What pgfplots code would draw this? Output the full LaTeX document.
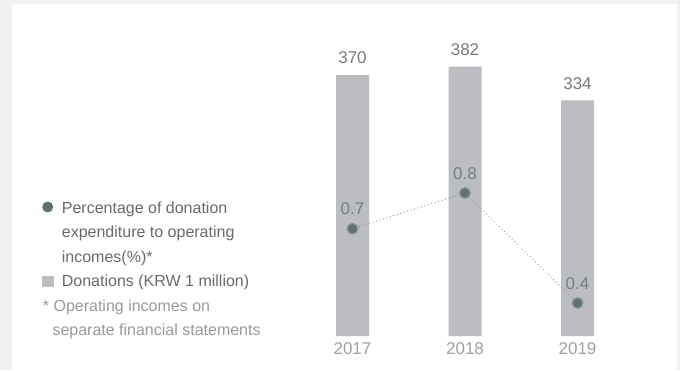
\documentclass[border=0pt]{standalone}
\usepackage{pgfplots}
\pgfplotsset{compat=1.18}
\usepackage{fontspec}
\setmainfont{Liberation Sans}
\definecolor{bgc}{HTML}{F0F1F3}
\definecolor{barc}{HTML}{BCBDC1}
\definecolor{dotc}{HTML}{5E7273}
\definecolor{linec}{HTML}{8C9294}
\definecolor{valc}{HTML}{7A7A7A}
\definecolor{lvalc}{HTML}{6E8283}
\definecolor{yearc}{HTML}{A0A0A0}
\definecolor{legc}{HTML}{6A6A6A}
\definecolor{footc}{HTML}{9A9A9A}
\begin{document}
\begin{tikzpicture}[x=1pt,y=1pt]
\fill[bgc] (0,0) rectangle (680,370);
\fill[white] (12,0) rectangle (677,366);
\begin{axis}[
  at={(296.25pt,34pt)}, anchor=south west, scale only axis,
  width=337.5pt, height=316pt,
  xmin=-0.5, xmax=2.5, ymin=0, ymax=448,
  axis line style={draw=none}, major tick length=0pt,
  ytick=\empty, xtick={0,1,2}, xticklabels={2017,2018,2019},
  xticklabel style={font=\fontsize{17}{20}\selectfont, text=yearc, inner sep=0pt, anchor=north, yshift=-6pt},
  /pgf/number format/assume math mode=true,
  clip=false,
]
\addplot[ybar, fill=barc, draw=none, bar width=33pt, bar shift=0pt,
  nodes near coords,
  every node near coord/.append style={font=\fontsize{17}{20}\selectfont, text=valc, inner sep=0pt, anchor=south, yshift=11pt}]
  coordinates {(0,370) (1,382) (2,334)};
\end{axis}
\begin{axis}[
  at={(296.25pt,34pt)}, anchor=south west, scale only axis,
  width=337.5pt, height=316pt,
  xmin=-0.5, xmax=2.5, ymin=0.28, ymax=1.429,
  hide axis, clip=false,
]
\addplot[linec, line width=1.3pt, line cap=round, dash pattern=on 0.01pt off 3.6pt,
  mark=*, mark size=5.3pt, mark options={solid, fill=dotc, draw=none},
  point meta=explicit symbolic, nodes near coords,
  every node near coord/.append style={font=\fontsize{17}{20}\selectfont, text=lvalc, inner sep=0pt, anchor=south, yshift=13pt}]
  coordinates {(0,0.67)[0.7] (1,0.8)[0.8] (2,0.4)[0.4]};
\end{axis}
\fill[dotc] (47.7,163) circle (5.5);
\fill[barc] (42,83) rectangle (53.7,94);
\begin{scope}[every node/.style={anchor=base west, inner sep=0pt, font=\fontsize{16}{19}\selectfont}]
\node[text=legc] at (61.7,156.7) {Percentage of donation};
\node[text=legc] at (61.7,132.2) {expenditure to operating};
\node[text=legc] at (61.7,107.7) {incomes(\%)*};
\node[text=legc] at (61.7,83.2) {Donations (KRW 1 million)};
\node[text=footc] at (42.7,58.7) {* Operating incomes on};
\node[text=footc] at (52.3,34.2) {separate financial statements};
\end{scope}
\end{tikzpicture}
\end{document}
